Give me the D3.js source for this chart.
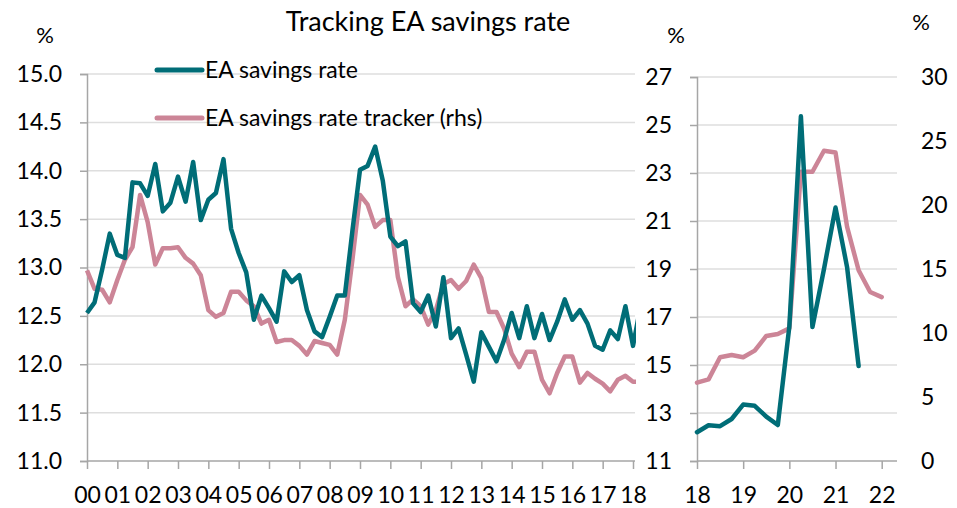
<!DOCTYPE html>
<html>
<head>
<meta charset="utf-8">
<script src="https://cdn.jsdelivr.net/npm/d3@7"></script>
<style>
  body { margin: 0; background: #fff; }
  svg { font-family: Lato, "Open Sans", sans-serif; }
</style>
</head>
<body>
<svg id="chart" width="957" height="508"></svg>
<script>
// Tracking EA savings rate: quarterly, 2000Q1 onwards (left) and 2018Q1 onwards (right)

// left panel, 2000Q1 - 2018Q2
const savingsLong = [12.53, 12.64, 12.98, 13.35, 13.13, 13.1, 13.88, 13.87, 13.74, 14.07,
  13.58, 13.67, 13.94, 13.68, 14.09, 13.49, 13.7, 13.77, 14.12, 13.4,
  13.15, 12.95, 12.46, 12.71, 12.58, 12.44, 12.96, 12.85, 12.92, 12.56,
  12.34, 12.28, 12.49, 12.71, 12.71, 13.38, 14.01, 14.05, 14.25, 13.9,
  13.32, 13.22, 13.27, 12.63, 12.54, 12.71, 12.39, 12.9, 12.27, 12.37,
  12.1, 11.82, 12.33, 12.18, 12.03, 12.25, 12.53, 12.27, 12.6, 12.27,
  12.52, 12.25, 12.44, 12.67, 12.46, 12.56, 12.42, 12.19, 12.15, 12.35,
  12.26, 12.6, 12.19, 12.6];
const trackerLong = [12.97, 12.78, 12.77, 12.64, 12.87, 13.08, 13.21, 13.75, 13.47, 13.03,
  13.2, 13.2, 13.21, 13.1, 13.04, 12.92, 12.56, 12.49, 12.53, 12.75,
  12.75, 12.66, 12.6, 12.42, 12.46, 12.23, 12.25, 12.25, 12.19, 12.1,
  12.24, 12.22, 12.2, 12.1, 12.46, 13.08, 13.75, 13.65, 13.42, 13.49,
  13.49, 12.9, 12.6, 12.67, 12.6, 12.41, 12.56, 12.83, 12.87, 12.78,
  12.86, 13.03, 12.89, 12.54, 12.54, 12.37, 12.11, 11.97, 12.13, 12.13,
  11.84, 11.7, 11.91, 12.08, 12.08, 11.81, 11.91, 11.85, 11.8, 11.72,
  11.84, 11.88, 11.82, 11.82];

// right panel, 2018Q1 onwards
const savingsRecent = [12.2, 12.49, 12.45, 12.75, 13.35, 13.3, 12.85, 12.5, 16.6, 25.36,
  16.58, 19.0, 21.56, 19.08, 14.96];
const trackerRecent = [6.12, 6.38, 8.1, 8.28, 8.1, 8.62, 9.77, 9.92, 10.36, 22.6,
  22.6, 24.24, 24.1, 18.3, 14.9, 13.2, 12.8];

const leftYTicks = [11, 11.5, 12, 12.5, 13, 13.5, 14, 14.5, 15];
const leftXTicks = d3.range(2000, 2019);
const rightYTicks = [11, 13, 15, 17, 19, 21, 23, 25, 27];
const rhsTicks = [0, 5, 10, 15, 20, 25, 30];
const rightXTicks = [2018, 2019, 2020, 2021, 2022];

const teal = "#006d77", pink = "#cc8597", grid = "#dedede", axisCol = "#a6a6a6";
const fontSize = 23;

const svg = d3.select("#chart");

// scales
const x1 = d3.scaleLinear().domain([2000, 2018]).range([87, 633]);
const y1 = d3.scaleLinear().domain([11, 15]).range([461, 74]);
const x2 = d3.scaleLinear().domain([2018, 2022]).range([697, 881.7]);
const y2 = d3.scaleLinear().domain([11, 27]).range([461, 77]);
const y2r = d3.scaleLinear().domain([0, 30]).range([461, 77]);

svg.append("defs").append("clipPath").attr("id", "clipL")
  .append("rect").attr("x", 80).attr("y", 40).attr("width", 556).attr("height", 440);

// gridlines
svg.append("g").selectAll("line").data(leftYTicks.slice(1)).join("line")
  .attr("x1", 87).attr("x2", 635)
  .attr("y1", d => y1(d)).attr("y2", d => y1(d))
  .attr("stroke", grid).attr("stroke-width", 1.5);
svg.append("g").selectAll("line").data(rightYTicks.slice(1)).join("line")
  .attr("x1", 697).attr("x2", 897)
  .attr("y1", d => y2(d)).attr("y2", d => y2(d))
  .attr("stroke", grid).attr("stroke-width", 1.5);

function styleAxis(g) {
  g.select(".domain").attr("stroke", axisCol).attr("stroke-width", 1.5);
  g.selectAll(".tick line").attr("stroke", axisCol).attr("stroke-width", 1.5);
  g.selectAll("text").attr("fill", "#000").style("font-size", fontSize + "px")
    .style("font-family", "Lato, 'Open Sans', sans-serif");
}

// left panel axes
svg.append("g").attr("transform", "translate(87,0)")
  .call(d3.axisLeft(y1).tickValues(leftYTicks).tickFormat(d3.format(".1f")).tickSizeOuter(0).tickSize(7).tickPadding(18))
  .call(styleAxis);
svg.append("g").attr("transform", "translate(0,461)")
  .call(d3.axisBottom(x1).tickValues(leftXTicks).tickFormat(d => String(d % 100).padStart(2, "0")).tickSizeOuter(0).tickSize(8).tickPadding(18))
  .call(g => g.select(".domain").attr("d", "M87,0H635"))
  .call(styleAxis);

// right panel axes
svg.append("g").attr("transform", "translate(697,0)")
  .call(d3.axisLeft(y2).tickValues(rightYTicks).tickSizeOuter(0).tickSize(7).tickPadding(18))
  .call(styleAxis);
svg.append("g").attr("transform", "translate(0,461)")
  .call(d3.axisBottom(x2).tickValues(rightXTicks).tickFormat(d => String(d % 100)).tickSizeOuter(0).tickSize(8).tickPadding(18))
  .call(g => g.select(".domain").attr("d", "M697,0H897"))
  .call(styleAxis);
svg.append("g").attr("transform", "translate(897,0)")
  .call(d3.axisRight(y2r).tickValues(rhsTicks).tickSize(0).tickPadding(24))
  .call(g => g.select(".domain").remove())
  .call(styleAxis);

// lines
const lineL = (arr) => d3.line().x((d, i) => x1(2000 + i / 4)).y(d => y1(d))(arr);
const lineR = (arr, ys) => d3.line().x((d, i) => x2(2018 + i / 4)).y(d => ys(d))(arr);

const plotL = svg.append("g").attr("clip-path", "url(#clipL)");
plotL.append("path").attr("d", lineL(trackerLong))
  .attr("fill", "none").attr("stroke", pink).attr("stroke-width", 4.5).attr("stroke-linejoin", "round");
plotL.append("path").attr("d", lineL(savingsLong))
  .attr("fill", "none").attr("stroke", teal).attr("stroke-width", 4.5).attr("stroke-linejoin", "round");

svg.append("path").attr("d", lineR(trackerRecent, y2r))
  .attr("fill", "none").attr("stroke", pink).attr("stroke-width", 4.5).attr("stroke-linejoin", "round").attr("stroke-linecap", "round");
svg.append("path").attr("d", lineR(savingsRecent, y2))
  .attr("fill", "none").attr("stroke", teal).attr("stroke-width", 4.5).attr("stroke-linejoin", "round").attr("stroke-linecap", "round");

// title and units
svg.append("text").attr("x", 428).attr("y", 31).attr("text-anchor", "middle")
  .style("font-size", "27px").text("Tracking EA savings rate");
svg.append("text").attr("x", 45).attr("y", 43).attr("text-anchor", "middle")
  .style("font-size", "22px").text("%");
svg.append("text").attr("x", 676).attr("y", 43).attr("text-anchor", "middle")
  .style("font-size", "22px").text("%");
svg.append("text").attr("x", 921).attr("y", 30).attr("text-anchor", "middle")
  .style("font-size", "22px").text("%");

// legend
const legend = [["EA savings rate", teal, 70], ["EA savings rate tracker (rhs)", pink, 118]];
const lg = svg.append("g").selectAll("g").data(legend).join("g");
lg.append("line").attr("x1", 157).attr("x2", 202)
  .attr("y1", d => d[2]).attr("y2", d => d[2])
  .attr("stroke", d => d[1]).attr("stroke-width", 5).attr("stroke-linecap", "round");
lg.append("text").attr("x", 205).attr("y", d => d[2] + 8)
  .style("font-size", fontSize + "px").text(d => d[0]);
</script>
</body>
</html>
